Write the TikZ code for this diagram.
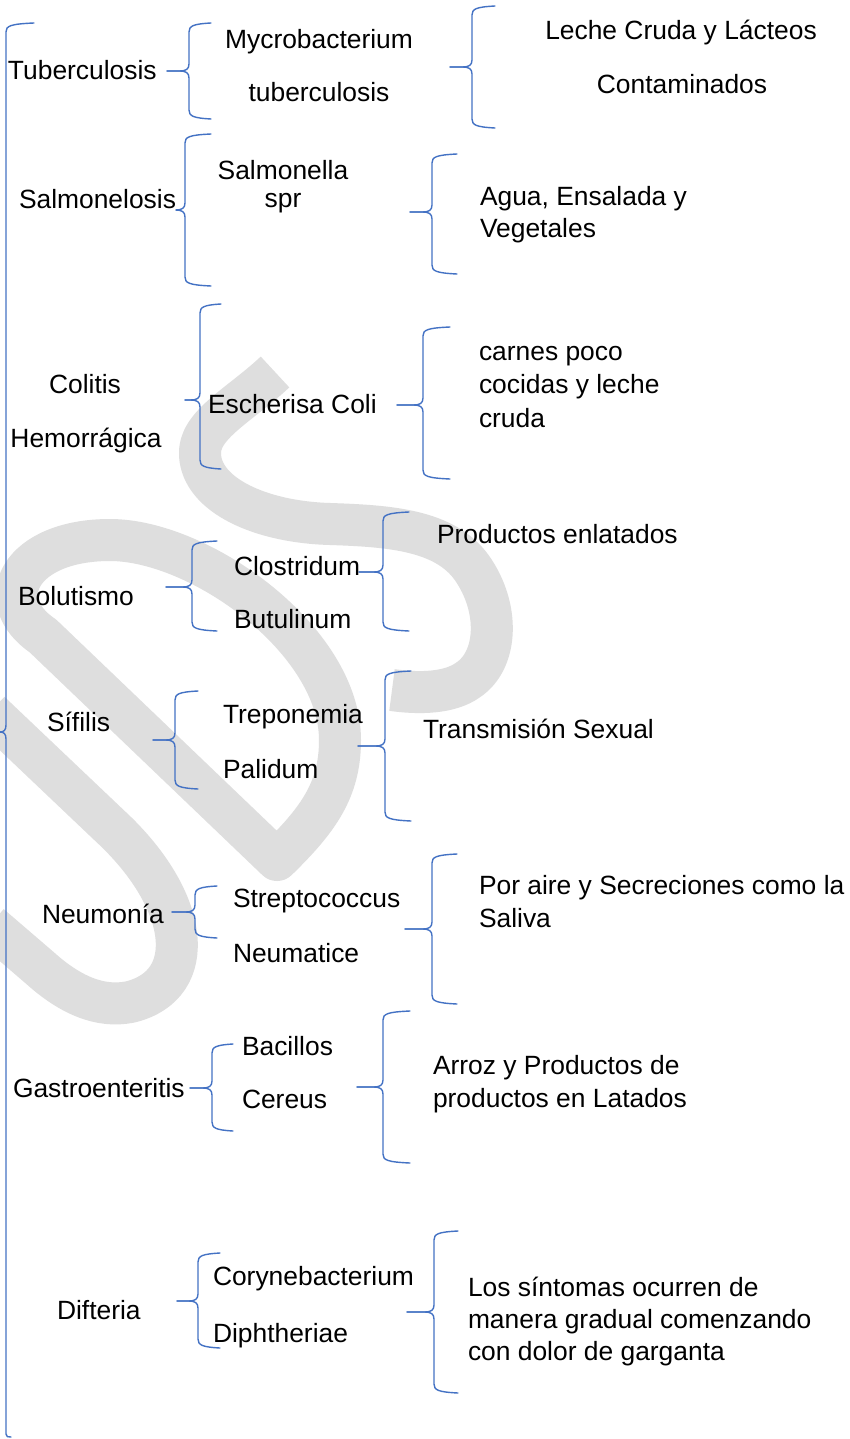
\documentclass[tikz,border=0pt]{standalone}
\usepackage{fontspec}
\setmainfont{Liberation Sans}
\definecolor{bblue}{RGB}{68,114,196}
\definecolor{wmgray}{RGB}{222,222,222}
\tikzset{
  bracestyle/.style={draw=bblue, line width=1.4pt, line join=round, line cap=round},
  wm/.style={draw=wmgray, line width=42pt, line cap=butt, line join=round},
  lbl/.style={inner sep=0pt, outer sep=0pt, font=\fontsize{26.4}{33}\selectfont, text=black},
  lw/.style={lbl, anchor=base west},
  lc/.style={lbl, anchor=base},
}
% #1 notch tip x, #2 vertical x, #3 end tip x, #4 top y, #5 middle y, #6 bottom y
\newcommand{\wbrace}[6]{%
  \draw[bracestyle] (#3,{#4-1}) .. controls ({#2+4},#4) and (#2,{#4+2}) .. (#2,{#4+8})
     -- (#2,{#5-7}) .. controls (#2,{#5-2}) and ({#2-3},#5) .. ({#2-9},#5) -- (#1,#5);
  \draw[bracestyle] (#1,#5) -- ({#2-9},#5) .. controls ({#2-3},#5) and (#2,{#5+2}) .. (#2,{#5+7})
     -- (#2,{#6-8}) .. controls (#2,{#6-2}) and ({#2+4},#6) .. (#3,{#6+1});
}
\begin{document}
\begin{tikzpicture}[x=1pt,y=-1pt]
\useasboundingbox (0,0) rectangle (849,1439);
\fill[white] (0,0) rectangle (849,1439);
\clip (0,0) rectangle (849,1439);

% watermark
\draw[wm] (275,372) .. controls (240,405) and (198,425) .. (200,455)
   .. controls (202,495) and (260,522) .. (330,524)
   .. controls (390,526) and (445,530) .. (472,568)
   .. controls (500,608) and (498,660) .. (468,680)
   .. controls (450,693) and (420,694) .. (392,690);
\draw[wm] (277,860) -- (43,636) .. controls (-10,600) and (20,540) .. (110,540)
   .. controls (200,540) and (340,640) .. (340,740)
   .. controls (340,790) and (318,820) .. (277,860) -- cycle;
\draw[wm] (-10,712) -- (110,826) .. controls (190,900) and (200,985) .. (130,1002)
   .. controls (100,1008) and (70,995) .. (40,968) -- (-10,925);

% main brace
\draw[bracestyle] (34,23) .. controls (10,24) and (6,26) .. (6,32) -- (6,725)
   .. controls (6,730) and (4,732) .. (0,732);
\draw[bracestyle] (0,732) .. controls (4,732) and (6,734) .. (6,739) -- (6,1434)
   .. controls (6,1437) and (8,1437) .. (11,1437);

% row braces
\wbrace{167}{189}{211}{24}{71}{118}
\wbrace{450}{472}{495}{7}{67}{127}
\wbrace{176}{185}{211}{135}{210}{285}
\wbrace{410}{432}{457}{155}{212}{273}
\wbrace{185}{200}{221}{305}{400}{468}
\wbrace{397}{423}{450}{328}{405}{478}
\wbrace{166}{192}{217}{542}{587}{630}
\wbrace{359}{383}{409}{513}{572}{630}
\wbrace{153}{175}{198}{692}{740}{788}
\wbrace{358}{385}{411}{672}{746}{820}
\wbrace{172}{195}{217}{887}{912}{937}
\wbrace{405}{432}{457}{855}{929}{1003}
\wbrace{190}{212}{233}{1045}{1088}{1130}
\wbrace{357}{383}{410}{1012}{1087}{1162}
\wbrace{177}{198}{220}{1254}{1301}{1347}
\wbrace{407}{434}{458}{1232}{1312}{1392}

% row 1
\node[lw] (t1) at (8,80) {Tuberculosis};
\node[lc] (m1a) at (319,49) {Mycrobacterium};
\node[lc] (m1b) at (319,102) {tuberculosis};
\node[lc] (s1a) at (681,40) {Leche Cruda y Lácteos};
\node[lc] (s1b) at (682,94) {Contaminados};
% row 2
\node[lw] (t2) at (19,209) {Salmonelosis};
\node[lc] (m2a) at (283,180) {Salmonella};
\node[lc] (m2b) at (283,208) {spr};
\node[lw] (s2a) at (480,206) {Agua, Ensalada y};
\node[lw] (s2b) at (480,238) {Vegetales};
% row 3
\node[lc] (t3a) at (85,393) {Colitis};
\node[lc] (t3b) at (86,447) {Hemorrágica};
\node[lw] (m3) at (208,413) {Escherisa Coli};
\node[lw] (s3a) at (479,360) {carnes poco};
\node[lw] (s3b) at (479,393) {cocidas y leche};
\node[lw] (s3c) at (479,427) {cruda};
% row 4
\node[lw] (t4) at (18,605) {Bolutismo};
\node[lw] (m4a) at (234,575) {Clostridum};
\node[lw] (m4b) at (234,628) {Butulinum};
\node[lw] (s4) at (437,543) {Productos enlatados};
% row 5
\node[lw] (t5) at (47,731) {Sífilis};
\node[lw] (m5a) at (223,723) {Treponemia};
\node[lw] (m5b) at (223,778) {Palidum};
\node[lw] (s5) at (423,738) {Transmisión Sexual};
% row 6
\node[lw] (t6) at (42,923) {Neumonía};
\node[lw] (m6a) at (233,907) {Streptococcus};
\node[lw] (m6b) at (233,962) {Neumatice};
\node[lw] (s6a) at (479,894) {Por aire y Secreciones como la};
\node[lw] (s6b) at (479,927) {Saliva};
% row 7
\node[lw] (t7) at (13,1097) {Gastroenteritis};
\node[lw] (m7a) at (242,1055) {Bacillos};
\node[lw] (m7b) at (242,1108) {Cereus};
\node[lw] (s7a) at (433,1074) {Arroz y Productos de};
\node[lw] (s7b) at (433,1107) {productos en Latados};
% row 8
\node[lw] (t8) at (57,1319) {Difteria};
\node[lw] (m8a) at (213,1285) {Corynebacterium};
\node[lw] (m8b) at (213,1342) {Diphtheriae};
\node[lw] (s8a) at (468,1296) {Los síntomas ocurren de};
\node[lw] (s8b) at (468,1328) {manera gradual comenzando};
\node[lw] (s8c) at (468,1360) {con dolor de garganta};
\end{tikzpicture}
\end{document}
